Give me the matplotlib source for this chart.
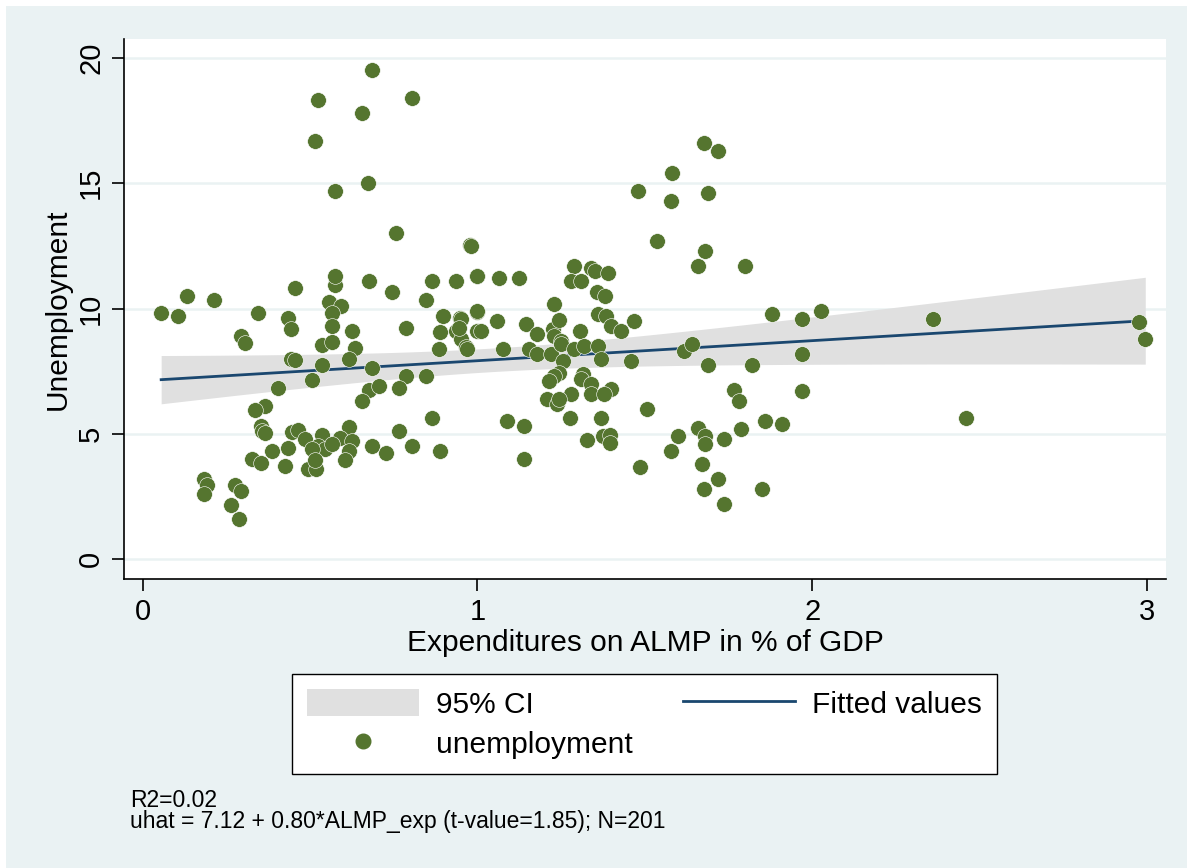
import numpy as np
import matplotlib
matplotlib.use('Agg')
import matplotlib.pyplot as plt
from matplotlib.patches import Rectangle, Patch
from matplotlib.lines import Line2D

plt.rcParams['font.family'] = ['Liberation Sans', 'DejaVu Sans']

# ALMP expenditure (% of GDP) and unemployment
almp = [0.055, 0.105, 0.132, 0.213, 0.345, 0.294, 0.305, 0.435, 0.444, 0.455,
        0.573, 0.573, 0.555, 0.593, 0.564, 0.564, 0.624, 0.675, 0.744, 0.845,
        0.864, 0.935, 0.897, 0.947, 0.999, 0.786, 0.887, 0.936, 0.950, 0.966,
        0.885, 0.999, 0.537, 0.564, 0.635, 0.615, 0.444, 0.455, 0.537, 0.685,
        0.787, 0.845, 0.505, 0.405, 0.675, 0.705, 0.765, 0.655, 0.365, 0.335,
        0.865, 0.353, 0.355, 0.365, 0.445, 0.465, 0.485, 0.537, 0.615, 0.590,
        0.625, 0.435, 0.525, 0.545, 0.565, 0.505, 0.615, 0.605, 0.685, 0.727,
        0.767, 0.805, 0.887, 0.385, 0.325, 0.353, 0.425, 0.495, 0.517, 0.515,
        0.183, 0.193, 0.183, 0.275, 0.295, 0.265, 0.287,
        0.685, 0.525, 0.805, 0.655, 0.515, 0.575, 0.673, 0.757, 0.977, 1.000,
        1.577, 1.537, 1.680, 1.660, 1.800, 0.980, 1.065, 1.125, 1.287, 1.340,
        1.350, 1.390, 1.280, 1.310, 1.230, 1.357, 1.380, 1.000, 0.950, 1.057,
        1.010, 0.970, 1.077, 1.145, 1.177, 1.227, 1.245, 1.230, 1.250, 1.307,
        1.360, 1.385, 1.400, 1.430, 1.467, 1.155, 1.177, 1.220, 1.250, 1.287,
        1.317, 1.360, 1.370, 1.257, 1.458, 1.245, 1.230, 1.215, 1.315, 1.310,
        1.340, 1.340, 1.400, 1.377, 1.280, 1.207, 1.237, 1.245, 1.507, 1.277,
        1.370, 1.087, 1.138, 1.138, 1.327, 1.375, 1.397, 1.397, 1.487, 1.600,
        1.578, 1.660, 1.680, 1.680, 1.670, 1.718, 1.678, 1.738, 1.738, 1.787,
        1.860, 1.910, 1.850, 1.767, 1.780, 1.970, 1.970, 1.820, 1.688, 1.617,
        1.640, 1.880, 1.970, 2.025, 1.678, 1.718, 1.580, 1.480, 1.688, 2.360,
        2.975, 2.995, 2.460, 0.945, 1.000]
unemp = [9.83, 9.72, 10.52, 10.33, 9.84, 8.92, 8.63, 9.64, 9.20, 10.82,
         10.92, 11.30, 10.25, 10.12, 9.84, 9.30, 9.12, 11.09, 10.65, 10.33,
         11.09, 11.09, 9.72, 9.63, 9.85, 9.24, 9.06, 9.10, 8.80, 8.45,
         8.40, 9.10, 8.53, 8.65, 8.43, 8.00, 7.97, 7.93, 7.73, 7.64,
         7.33, 7.33, 7.14, 6.82, 6.77, 6.93, 6.82, 6.33, 6.11, 5.94,
         5.65, 5.31, 5.11, 5.02, 5.07, 5.15, 4.81, 4.94, 5.27, 4.85,
         4.71, 4.45, 4.51, 4.38, 4.58, 4.38, 4.31, 3.98, 4.51, 4.25,
         5.11, 4.51, 4.31, 4.31, 4.01, 3.85, 3.72, 3.61, 3.61, 3.98,
         3.22, 2.95, 2.62, 2.95, 2.72, 2.15, 1.62,
         19.50, 18.30, 18.40, 17.80, 16.70, 14.70, 15.00, 13.00, 12.55, 11.30,
         14.30, 12.70, 12.30, 11.70, 11.70, 12.50, 11.20, 11.20, 11.70, 11.60,
         11.50, 11.40, 11.10, 11.10, 10.20, 10.65, 10.50, 9.90, 9.60, 9.50,
         9.10, 8.40, 8.40, 9.40, 9.00, 9.20, 9.55, 8.90, 8.70, 9.10,
         9.80, 9.70, 9.30, 9.10, 9.50, 8.40, 8.20, 8.20, 8.60, 8.40,
         8.50, 8.50, 8.00, 7.90, 7.90, 7.45, 7.30, 7.10, 7.40, 7.20,
         7.00, 6.60, 6.80, 6.60, 6.60, 6.40, 6.20, 6.40, 6.00, 5.65,
         5.65, 5.50, 5.30, 4.00, 4.75, 4.90, 4.95, 4.65, 3.70, 4.90,
         4.30, 5.25, 4.90, 4.60, 3.80, 3.20, 2.80, 2.20, 4.80, 5.20,
         5.50, 5.40, 2.80, 6.75, 6.30, 6.70, 8.20, 7.75, 7.75, 8.30,
         8.60, 9.80, 9.60, 9.90, 16.60, 16.30, 15.40, 14.70, 14.60, 9.60,
         9.45, 8.80, 5.65, 9.23, 11.30]

# regression results printed under the chart
intercept = 7.12
slope = 0.80
t_slope = 1.85

x = np.array(almp)
y = np.array(unemp)

# fitted line and 95% CI of the prediction (twoway lfitci style)
n = len(x)
resid = y - (intercept + slope * x)
s2 = np.sum(resid ** 2) / (n - 2)
se_b = slope / t_slope
grid = np.linspace(x.min(), x.max(), 100)
fit = intercept + slope * grid
se = np.sqrt(s2 / n + se_b ** 2 * (grid - x.mean()) ** 2)
lo = fit - 1.972 * se
hi = fit + 1.972 * se

bg = '#EAF2F3'
fig = plt.figure(figsize=(11.87, 8.68), dpi=100)
fig.patch.set_facecolor('white')
fig.patches.append(Rectangle((6 / 1187, 0), 1, 1 - 6 / 868,
                             transform=fig.transFigure, facecolor=bg,
                             edgecolor='none', zorder=-10))

ax = fig.add_axes([124 / 1187, 1 - 579 / 868, (1166 - 124) / 1187, (579 - 39) / 868])
ax.set_facecolor('white')

ax.fill_between(grid, lo, hi, color='#E0E0E0', linewidth=0, zorder=2)
ax.plot(grid, fit, color='#1A476F', linewidth=2, zorder=3)
ax.scatter(x, y, s=128, color='#55752F', edgecolors='white', linewidths=0.4, zorder=4)

ax.set_xlim(-0.056, 3.057)
ax.set_ylim(-0.785, 20.75)
ax.set_xticks([0, 1, 2, 3])
ax.set_yticks([0, 5, 10, 15, 20])
ax.grid(axis='y', color=bg, linewidth=1.8, zorder=1)
ax.set_axisbelow(True)
for sp in ['top', 'right']:
    ax.spines[sp].set_visible(False)
for sp in ['left', 'bottom']:
    ax.spines[sp].set_linewidth(1.2)
ax.tick_params(axis='both', direction='out', length=8.5, width=1.2, labelsize=21, pad=5)
plt.setp(ax.get_yticklabels(), rotation=90, va='center')

ax.set_xlabel('Expenditures on ALMP in % of GDP', fontsize=21.5, labelpad=2)
ax.set_ylabel('Unemployment', fontsize=21.5, labelpad=4)

h_ci = Patch(facecolor='#E0E0E0', edgecolor='none')
h_fit = Line2D([], [], color='#1A476F', linewidth=2)
h_dot = Line2D([], [], marker='o', linestyle='none', color='#55752F', markersize=10.5)
leg = fig.legend([h_ci, h_dot, h_fit], ['95% CI', 'unemployment', 'Fitted values'],
                 ncol=2, loc='center', bbox_to_anchor=(644.5 / 1187, 1 - 724 / 868),
                 fontsize=21.5, frameon=True, fancybox=False, edgecolor='black',
                 framealpha=1, handlelength=3.75, handleheight=1.0, columnspacing=1.7,
                 handletextpad=0.55, borderpad=0.5, labelspacing=0.34)
leg.get_frame().set_linewidth(1.0)

fig.text(130 / 1187, 1 - 807 / 868, 'R2=0.02', fontsize=16.5, va='baseline')
fig.text(130 / 1187, 1 - 828 / 868, 'uhat = 7.12 + 0.80*ALMP_exp (t-value=1.85); N=201',
         fontsize=16.5, va='baseline')

fig.savefig('out.png', dpi=100, facecolor=fig.get_facecolor())
